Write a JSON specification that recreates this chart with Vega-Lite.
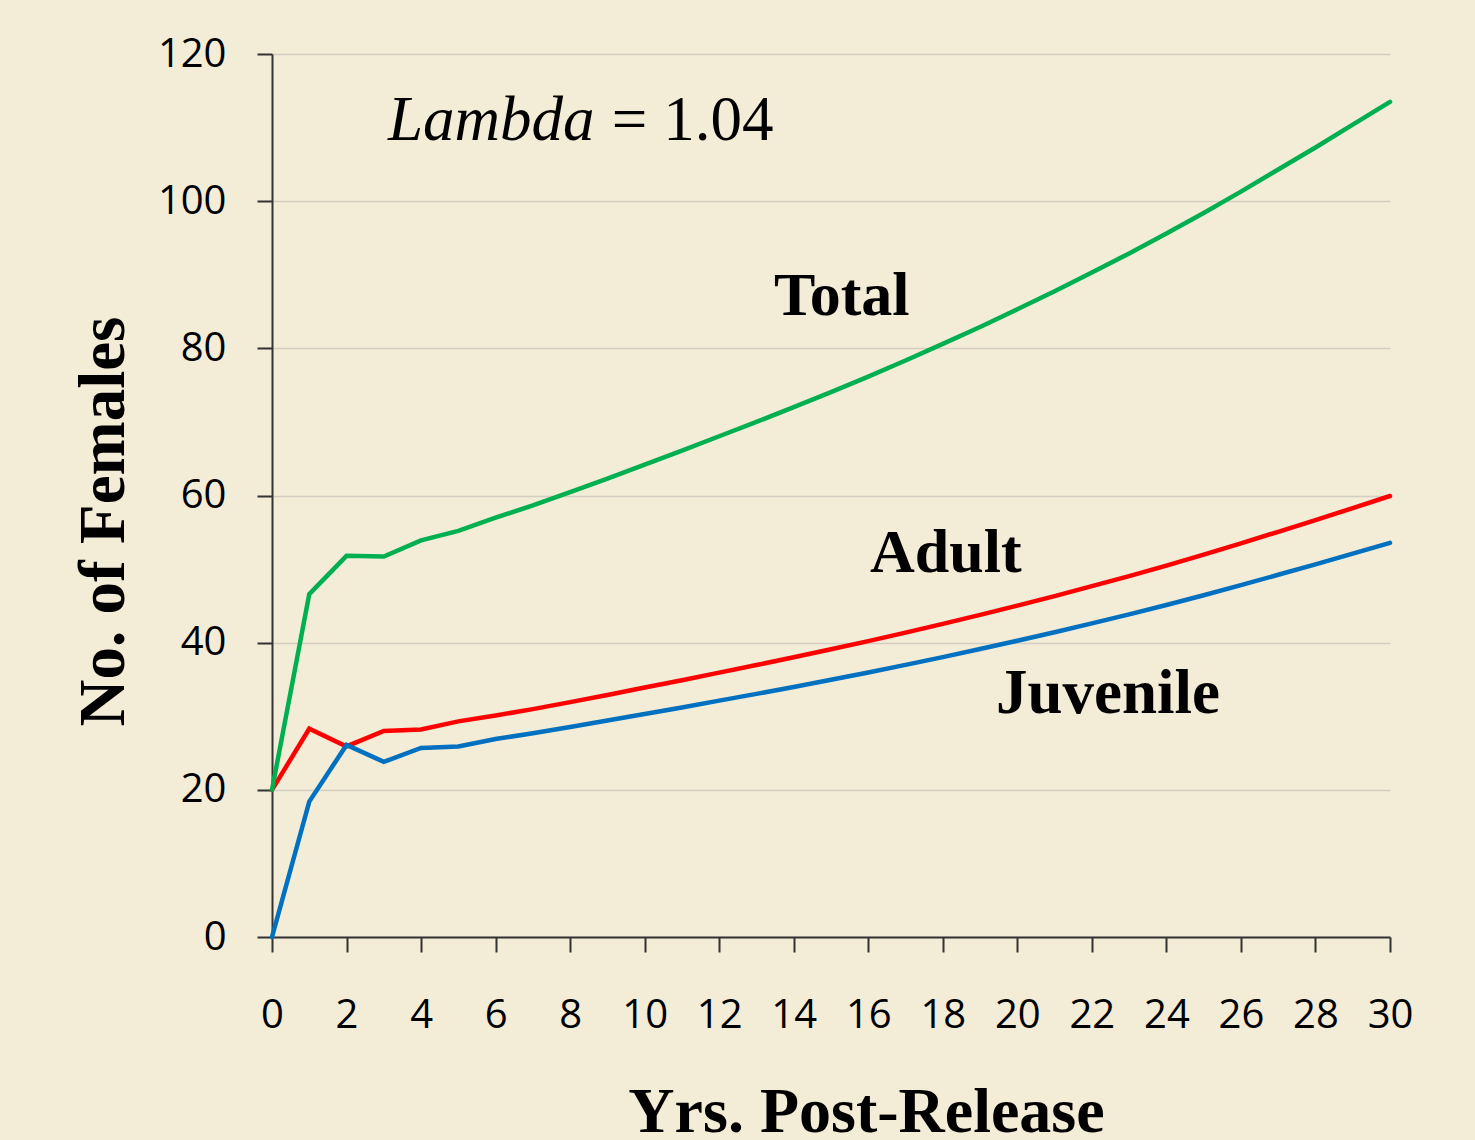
{
  "$schema": "https://vega.github.io/schema/vega-lite/v6.json",
  "width": 1118,
  "height": 883,
  "autosize": {"type": "none"},
  "padding": {"left": 272, "top": 54, "right": 85, "bottom": 203},
  "background": "#F3ECD7",
  "config": {"view": {"stroke": null}},
  "data": {"values": [
    {"year":0,"series":"Adult","value":20},{"year":1,"series":"Adult","value":28.3},{"year":2,"series":"Adult","value":25.9},{"year":3,"series":"Adult","value":28.0},{"year":4,"series":"Adult","value":28.2},{"year":5,"series":"Adult","value":29.3},{"year":6,"series":"Adult","value":30.1},{"year":7,"series":"Adult","value":30.97},{"year":8,"series":"Adult","value":31.92},{"year":9,"series":"Adult","value":32.89},{"year":10,"series":"Adult","value":33.9},{"year":11,"series":"Adult","value":34.9},{"year":12,"series":"Adult","value":35.93},{"year":13,"series":"Adult","value":36.96},{"year":14,"series":"Adult","value":38.02},{"year":15,"series":"Adult","value":39.1},{"year":16,"series":"Adult","value":40.21},{"year":17,"series":"Adult","value":41.37},{"year":18,"series":"Adult","value":42.56},{"year":19,"series":"Adult","value":43.77},{"year":20,"series":"Adult","value":45.04},{"year":21,"series":"Adult","value":46.33},{"year":22,"series":"Adult","value":47.68},{"year":23,"series":"Adult","value":49.05},{"year":24,"series":"Adult","value":50.48},{"year":25,"series":"Adult","value":51.96},{"year":26,"series":"Adult","value":53.49},{"year":27,"series":"Adult","value":55.07},{"year":28,"series":"Adult","value":56.65},{"year":29,"series":"Adult","value":58.29},{"year":30,"series":"Adult","value":59.93},
    {"year":0,"series":"Juvenile","value":0},{"year":1,"series":"Juvenile","value":18.4},{"year":2,"series":"Juvenile","value":26.1},{"year":3,"series":"Juvenile","value":23.8},{"year":4,"series":"Juvenile","value":25.7},{"year":5,"series":"Juvenile","value":25.9},{"year":6,"series":"Juvenile","value":26.9},{"year":7,"series":"Juvenile","value":27.68},{"year":8,"series":"Juvenile","value":28.53},{"year":9,"series":"Juvenile","value":29.41},{"year":10,"series":"Juvenile","value":30.3},{"year":11,"series":"Juvenile","value":31.2},{"year":12,"series":"Juvenile","value":32.12},{"year":13,"series":"Juvenile","value":33.04},{"year":14,"series":"Juvenile","value":33.98},{"year":15,"series":"Juvenile","value":34.95},{"year":16,"series":"Juvenile","value":35.94},{"year":17,"series":"Juvenile","value":36.98},{"year":18,"series":"Juvenile","value":38.04},{"year":19,"series":"Juvenile","value":39.13},{"year":20,"series":"Juvenile","value":40.26},{"year":21,"series":"Juvenile","value":41.42},{"year":22,"series":"Juvenile","value":42.62},{"year":23,"series":"Juvenile","value":43.85},{"year":24,"series":"Juvenile","value":45.12},{"year":25,"series":"Juvenile","value":46.44},{"year":26,"series":"Juvenile","value":47.81},{"year":27,"series":"Juvenile","value":49.23},{"year":28,"series":"Juvenile","value":50.65},{"year":29,"series":"Juvenile","value":52.11},{"year":30,"series":"Juvenile","value":53.57},
    {"year":0,"series":"Total","value":20},{"year":1,"series":"Total","value":46.6},{"year":2,"series":"Total","value":51.8},{"year":3,"series":"Total","value":51.7},{"year":4,"series":"Total","value":53.9},{"year":5,"series":"Total","value":55.2},{"year":6,"series":"Total","value":57.0},{"year":7,"series":"Total","value":58.65},{"year":8,"series":"Total","value":60.45},{"year":9,"series":"Total","value":62.3},{"year":10,"series":"Total","value":64.2},{"year":11,"series":"Total","value":66.1},{"year":12,"series":"Total","value":68.05},{"year":13,"series":"Total","value":70.0},{"year":14,"series":"Total","value":72.0},{"year":15,"series":"Total","value":74.05},{"year":16,"series":"Total","value":76.15},{"year":17,"series":"Total","value":78.35},{"year":18,"series":"Total","value":80.6},{"year":19,"series":"Total","value":82.9},{"year":20,"series":"Total","value":85.3},{"year":21,"series":"Total","value":87.75},{"year":22,"series":"Total","value":90.3},{"year":23,"series":"Total","value":92.9},{"year":24,"series":"Total","value":95.6},{"year":25,"series":"Total","value":98.4},{"year":26,"series":"Total","value":101.3},{"year":27,"series":"Total","value":104.3},{"year":28,"series":"Total","value":107.3},{"year":29,"series":"Total","value":110.4},{"year":30,"series":"Total","value":113.5}
  ]},
  "layer": [
    {
      "mark": {"type": "line", "strokeWidth": 4.5, "strokeCap": "round", "strokeJoin": "miter"},
      "encoding": {
        "x": {"field": "year", "type": "quantitative",
          "scale": {"domain": [0, 30], "nice": false, "zero": true},
          "axis": {
            "values": [0,1,2,3,4,5,6,7,8,9,10,11,12,13,14,15,16,17,18,19,20,21,22,23,24,25,26,27,28,29,30],
            "labelExpr": "datum.value % 2 == 0 ? datum.label : ''",
            "grid": false, "tickSize": 15, "tickWidth": 2, "tickColor": "#333333",
            "domainColor": "#333333", "domainWidth": 2,
            "labelFont": "Open Sans", "labelFontSize": 40, "labelColor": "#000000",
            "labelPadding": 43, "labelFlush": false, "labelOverlap": false,
            "title": "Yrs. Post-Release", "titleFont": "Liberation Serif", "titleFontWeight": "bold",
            "titleFontSize": 64, "titleColor": "#000000", "titleX": 594, "titleY": 194,
            "titleBaseline": "alphabetic", "titleAlign": "center"
          }},
        "y": {"field": "value", "type": "quantitative",
          "scale": {"domain": [0, 120], "nice": false},
          "axis": {
            "values": [0,20,40,60,80,100,120],
            "grid": true, "gridColor": "#D2CEC4", "gridWidth": 1.5,
            "tickSize": 15, "tickWidth": 2, "tickColor": "#333333",
            "domainColor": "#333333", "domainWidth": 2,
            "labelFont": "Open Sans", "labelFontSize": 40, "labelColor": "#000000",
            "labelPadding": 31, "labelFlush": false, "labelOverlap": false,
            "title": "No. of Females", "titleFont": "Liberation Serif", "titleFontWeight": "bold",
            "titleFontSize": 65, "titleColor": "#000000", "titleX": -149, "titleY": 467,
            "titleBaseline": "alphabetic", "titleAlign": "center", "titleAngle": -90
          }},
        "color": {"field": "series", "type": "nominal",
          "scale": {"domain": ["Adult", "Juvenile", "Total"], "range": ["#FF0000", "#0070C0", "#00B050"]},
          "legend": null}
      }
    },
    {
      "data": {"values": [{}]},
      "mark": {"type": "text", "text": "Lambda", "font": "Liberation Serif", "fontStyle": "italic", "fontSize": 63, "align": "left", "baseline": "alphabetic", "color": "#000000"},
      "encoding": {"x": {"datum": 3.11, "type": "quantitative"}, "y": {"datum": 108.3, "type": "quantitative"}}
    },
    {
      "data": {"values": [{}]},
      "mark": {"type": "text", "text": "= 1.04", "font": "Liberation Serif", "fontSize": 63, "align": "left", "baseline": "alphabetic", "color": "#000000"},
      "encoding": {"x": {"datum": 9.12, "type": "quantitative"}, "y": {"datum": 108.3, "type": "quantitative"}}
    },
    {
      "data": {"values": [{}]},
      "mark": {"type": "text", "text": "Total", "font": "Liberation Serif", "fontWeight": "bold", "fontSize": 62, "align": "center", "baseline": "alphabetic", "color": "#000000"},
      "encoding": {"x": {"datum": 15.29, "type": "quantitative"}, "y": {"datum": 84.5, "type": "quantitative"}}
    },
    {
      "data": {"values": [{}]},
      "mark": {"type": "text", "text": "Adult", "font": "Liberation Serif", "fontWeight": "bold", "fontSize": 62, "align": "center", "baseline": "alphabetic", "color": "#000000"},
      "encoding": {"x": {"datum": 18.08, "type": "quantitative"}, "y": {"datum": 49.65, "type": "quantitative"}}
    },
    {
      "data": {"values": [{}]},
      "mark": {"type": "text", "text": "Juvenile", "font": "Liberation Serif", "fontWeight": "bold", "fontSize": 63, "align": "center", "baseline": "alphabetic", "color": "#000000"},
      "encoding": {"x": {"datum": 22.43, "type": "quantitative"}, "y": {"datum": 30.4, "type": "quantitative"}}
    }
  ]
}
